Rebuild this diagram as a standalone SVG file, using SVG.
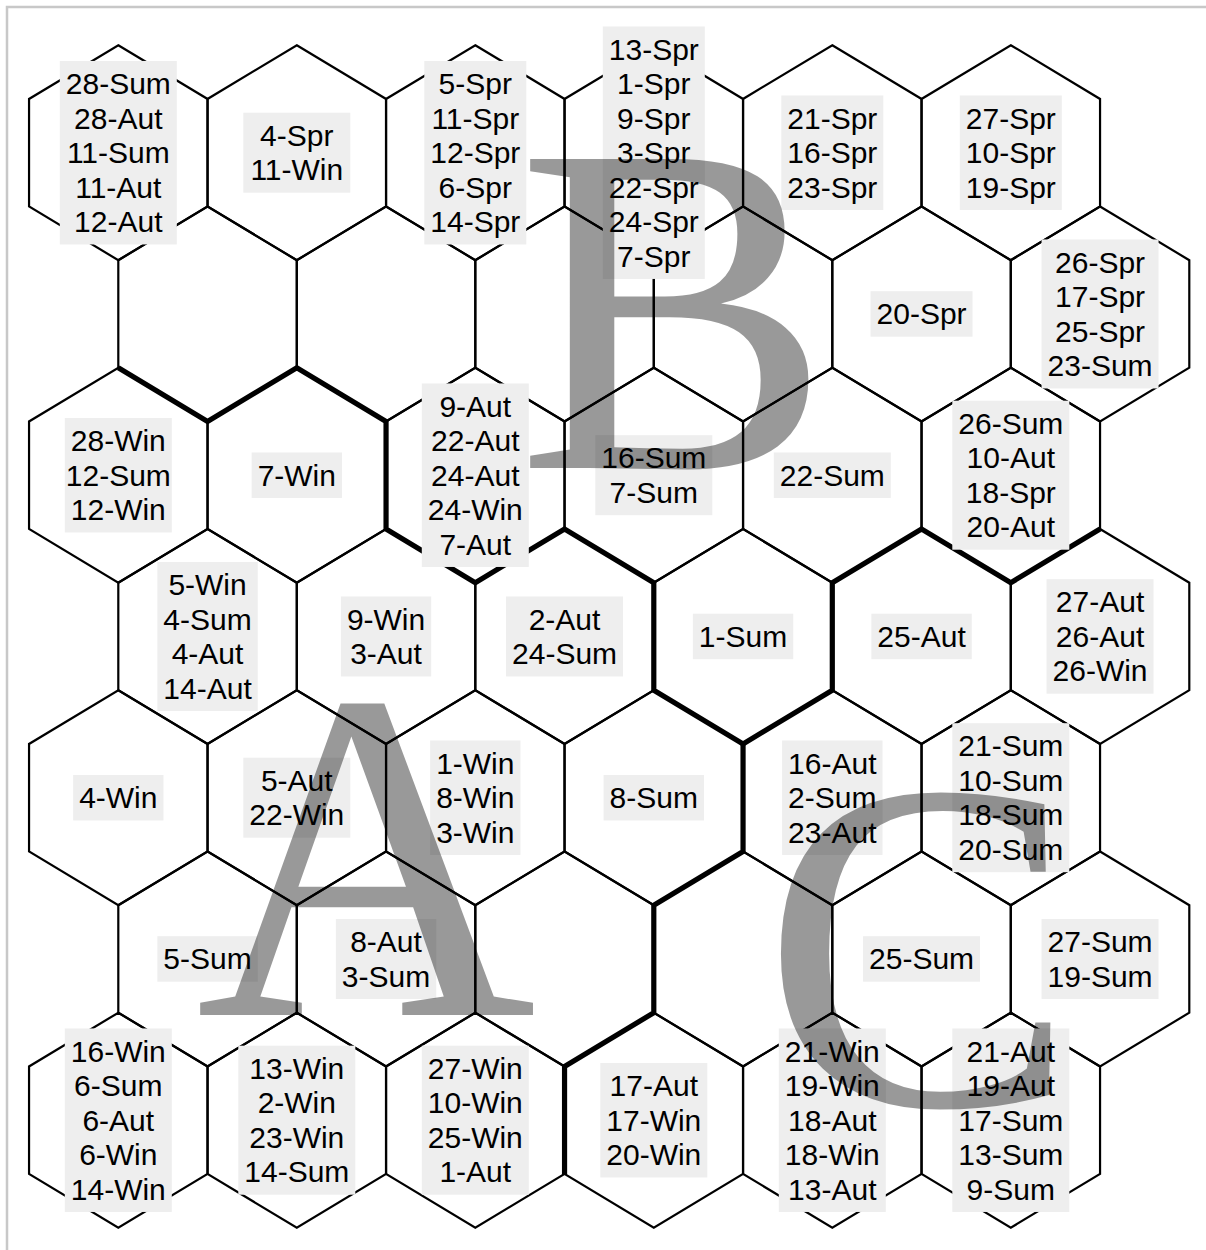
<svg xmlns="http://www.w3.org/2000/svg" xmlns:xlink="http://www.w3.org/1999/xlink" width="1206" height="1250" viewBox="0 0 1206 1250">
<style>
.cell{fill:none;stroke:#000;stroke-width:2.2;stroke-linejoin:miter}
.border{fill:none;stroke:#000;stroke-width:5.2;stroke-linejoin:miter;stroke-linecap:butt}
.box{fill:#eeeeee}
.lbl{font-family:"Liberation Sans",Arial,sans-serif;font-size:30px;fill:#000;text-anchor:middle}
.big{font-family:"Liberation Serif","Times New Roman",serif;font-size:472px;fill:#000;fill-opacity:0.4;text-anchor:middle}
.frame{fill:none;stroke:#c8c8c8;stroke-width:2.5}
</style>
<defs>
<polygon id="hex" points="0,-107.5 89.25,-53.75 89.25,53.75 0,107.5 -89.25,53.75 -89.25,-53.75"/>
</defs>
<rect x="0" y="0" width="1206" height="1250" fill="#fff"/>
<path class="frame" d="M7,1250 V7 H1206"/>
<g id="cells">
<use class="cell" href="#hex" x="118.3" y="152.7"/><use class="cell" href="#hex" x="296.8" y="152.7"/><use class="cell" href="#hex" x="475.3" y="152.7"/><use class="cell" href="#hex" x="653.8" y="152.7"/><use class="cell" href="#hex" x="832.3" y="152.7"/><use class="cell" href="#hex" x="1010.8" y="152.7"/>
<use class="cell" href="#hex" x="207.55" y="313.95"/><use class="cell" href="#hex" x="386.05" y="313.95"/><use class="cell" href="#hex" x="564.55" y="313.95"/><use class="cell" href="#hex" x="743.05" y="313.95"/><use class="cell" href="#hex" x="921.55" y="313.95"/><use class="cell" href="#hex" x="1100.05" y="313.95"/>
<use class="cell" href="#hex" x="118.3" y="475.2"/><use class="cell" href="#hex" x="296.8" y="475.2"/><use class="cell" href="#hex" x="475.3" y="475.2"/><use class="cell" href="#hex" x="653.8" y="475.2"/><use class="cell" href="#hex" x="832.3" y="475.2"/><use class="cell" href="#hex" x="1010.8" y="475.2"/>
<use class="cell" href="#hex" x="207.55" y="636.45"/><use class="cell" href="#hex" x="386.05" y="636.45"/><use class="cell" href="#hex" x="564.55" y="636.45"/><use class="cell" href="#hex" x="743.05" y="636.45"/><use class="cell" href="#hex" x="921.55" y="636.45"/><use class="cell" href="#hex" x="1100.05" y="636.45"/>
<use class="cell" href="#hex" x="118.3" y="797.7"/><use class="cell" href="#hex" x="296.8" y="797.7"/><use class="cell" href="#hex" x="475.3" y="797.7"/><use class="cell" href="#hex" x="653.8" y="797.7"/><use class="cell" href="#hex" x="832.3" y="797.7"/><use class="cell" href="#hex" x="1010.8" y="797.7"/>
<use class="cell" href="#hex" x="207.55" y="958.95"/><use class="cell" href="#hex" x="386.05" y="958.95"/><use class="cell" href="#hex" x="564.55" y="958.95"/><use class="cell" href="#hex" x="743.05" y="958.95"/><use class="cell" href="#hex" x="921.55" y="958.95"/><use class="cell" href="#hex" x="1100.05" y="958.95"/>
<use class="cell" href="#hex" x="118.3" y="1120.2"/><use class="cell" href="#hex" x="296.8" y="1120.2"/><use class="cell" href="#hex" x="475.3" y="1120.2"/><use class="cell" href="#hex" x="653.8" y="1120.2"/><use class="cell" href="#hex" x="832.3" y="1120.2"/><use class="cell" href="#hex" x="1010.8" y="1120.2"/>
</g>
<g id="connectors">
<path class="border" d="M118.3,367.7 L207.55,421.45 L296.8,367.7 L386.05,421.45 L386.05,528.95 L475.3,582.7 L564.55,528.95 L653.8,582.7 L653.8,690.2 L743.05,743.95 L832.3,690.2 L832.3,582.7 L921.55,528.95 L1010.8,582.7 L1100.05,528.95"/>
<path class="border" d="M743.05,743.95 L743.05,851.45 L653.8,905.2 L653.8,1012.7 L564.55,1066.45 L564.55,1173.95"/>
</g>
<g id="labels">
<g id="n-r1c1"><rect class="box" x="59.8" y="60.95" width="117" height="183.5"/><text class="lbl"><tspan x="118.3" y="94.1">28-Sum</tspan><tspan x="118.3" y="128.6">28-Aut</tspan><tspan x="118.3" y="163.1">11-Sum</tspan><tspan x="118.3" y="197.6">11-Aut</tspan><tspan x="118.3" y="232.1">12-Aut</tspan></text></g>
<g id="n-r1c2"><rect class="box" x="243.3" y="112.7" width="107" height="80"/><text class="lbl"><tspan x="296.8" y="145.85">4-Spr</tspan><tspan x="296.8" y="180.35">11-Win</tspan></text></g>
<g id="n-r1c3"><rect class="box" x="424.3" y="60.95" width="102" height="183.5"/><text class="lbl"><tspan x="475.3" y="94.1">5-Spr</tspan><tspan x="475.3" y="128.6">11-Spr</tspan><tspan x="475.3" y="163.1">12-Spr</tspan><tspan x="475.3" y="197.6">6-Spr</tspan><tspan x="475.3" y="232.1">14-Spr</tspan></text></g>
<g id="n-r1c4"><rect class="box" x="602.8" y="26.45" width="102" height="252.5"/><text class="lbl"><tspan x="653.8" y="59.6">13-Spr</tspan><tspan x="653.8" y="94.1">1-Spr</tspan><tspan x="653.8" y="128.6">9-Spr</tspan><tspan x="653.8" y="163.1">3-Spr</tspan><tspan x="653.8" y="197.6">22-Spr</tspan><tspan x="653.8" y="232.1">24-Spr</tspan><tspan x="653.8" y="266.6">7-Spr</tspan></text></g>
<g id="n-r1c5"><rect class="box" x="781.3" y="95.45" width="102" height="114.5"/><text class="lbl"><tspan x="832.3" y="128.6">21-Spr</tspan><tspan x="832.3" y="163.1">16-Spr</tspan><tspan x="832.3" y="197.6">23-Spr</tspan></text></g>
<g id="n-r1c6"><rect class="box" x="959.8" y="95.45" width="102" height="114.5"/><text class="lbl"><tspan x="1010.8" y="128.6">27-Spr</tspan><tspan x="1010.8" y="163.1">10-Spr</tspan><tspan x="1010.8" y="197.6">19-Spr</tspan></text></g>
<g id="n-r2c5"><rect class="box" x="870.55" y="291.2" width="102" height="45.5"/><text class="lbl"><tspan x="921.55" y="324.35">20-Spr</tspan></text></g>
<g id="n-r2c6"><rect class="box" x="1041.55" y="239.45" width="117" height="149"/><text class="lbl"><tspan x="1100.05" y="272.6">26-Spr</tspan><tspan x="1100.05" y="307.1">17-Spr</tspan><tspan x="1100.05" y="341.6">25-Spr</tspan><tspan x="1100.05" y="376.1">23-Sum</tspan></text></g>
<g id="n-r3c1"><rect class="box" x="64.8" y="417.95" width="107" height="114.5"/><text class="lbl"><tspan x="118.3" y="451.1">28-Win</tspan><tspan x="118.3" y="485.6">12-Sum</tspan><tspan x="118.3" y="520.1">12-Win</tspan></text></g>
<g id="n-r3c2"><rect class="box" x="251.65" y="452.45" width="90.3" height="45.5"/><text class="lbl"><tspan x="296.8" y="485.6">7-Win</tspan></text></g>
<g id="n-r3c3"><rect class="box" x="421.8" y="383.45" width="107" height="183.5"/><text class="lbl"><tspan x="475.3" y="416.6">9-Aut</tspan><tspan x="475.3" y="451.1">22-Aut</tspan><tspan x="475.3" y="485.6">24-Aut</tspan><tspan x="475.3" y="520.1">24-Win</tspan><tspan x="475.3" y="554.6">7-Aut</tspan></text></g>
<g id="n-r3c4"><rect class="box" x="595.3" y="435.2" width="117" height="80"/><text class="lbl"><tspan x="653.8" y="468.35">16-Sum</tspan><tspan x="653.8" y="502.85">7-Sum</tspan></text></g>
<g id="n-r3c5"><rect class="box" x="773.8" y="452.45" width="117" height="45.5"/><text class="lbl"><tspan x="832.3" y="485.6">22-Sum</tspan></text></g>
<g id="n-r3c6"><rect class="box" x="952.3" y="400.7" width="117" height="149"/><text class="lbl"><tspan x="1010.8" y="433.85">26-Sum</tspan><tspan x="1010.8" y="468.35">10-Aut</tspan><tspan x="1010.8" y="502.85">18-Spr</tspan><tspan x="1010.8" y="537.35">20-Aut</tspan></text></g>
<g id="n-r4c1"><rect class="box" x="157.35" y="561.95" width="100.4" height="149"/><text class="lbl"><tspan x="207.55" y="595.1">5-Win</tspan><tspan x="207.55" y="629.6">4-Sum</tspan><tspan x="207.55" y="664.1">4-Aut</tspan><tspan x="207.55" y="698.6">14-Aut</tspan></text></g>
<g id="n-r4c2"><rect class="box" x="340.9" y="596.45" width="90.3" height="80"/><text class="lbl"><tspan x="386.05" y="629.6">9-Win</tspan><tspan x="386.05" y="664.1">3-Aut</tspan></text></g>
<g id="n-r4c3"><rect class="box" x="506.05" y="596.45" width="117" height="80"/><text class="lbl"><tspan x="564.55" y="629.6">2-Aut</tspan><tspan x="564.55" y="664.1">24-Sum</tspan></text></g>
<g id="n-r4c4"><rect class="box" x="692.85" y="613.7" width="100.4" height="45.5"/><text class="lbl"><tspan x="743.05" y="646.85">1-Sum</tspan></text></g>
<g id="n-r4c5"><rect class="box" x="871.35" y="613.7" width="100.4" height="45.5"/><text class="lbl"><tspan x="921.55" y="646.85">25-Aut</tspan></text></g>
<g id="n-r4c6"><rect class="box" x="1046.55" y="579.2" width="107" height="114.5"/><text class="lbl"><tspan x="1100.05" y="612.35">27-Aut</tspan><tspan x="1100.05" y="646.85">26-Aut</tspan><tspan x="1100.05" y="681.35">26-Win</tspan></text></g>
<g id="n-r5c1"><rect class="box" x="73.15" y="774.95" width="90.3" height="45.5"/><text class="lbl"><tspan x="118.3" y="808.1">4-Win</tspan></text></g>
<g id="n-r5c2"><rect class="box" x="243.3" y="757.7" width="107" height="80"/><text class="lbl"><tspan x="296.8" y="790.85">5-Aut</tspan><tspan x="296.8" y="825.35">22-Win</tspan></text></g>
<g id="n-r5c3"><rect class="box" x="430.15" y="740.45" width="90.3" height="114.5"/><text class="lbl"><tspan x="475.3" y="773.6">1-Win</tspan><tspan x="475.3" y="808.1">8-Win</tspan><tspan x="475.3" y="842.6">3-Win</tspan></text></g>
<g id="n-r5c4"><rect class="box" x="603.6" y="774.95" width="100.4" height="45.5"/><text class="lbl"><tspan x="653.8" y="808.1">8-Sum</tspan></text></g>
<g id="n-r5c5"><rect class="box" x="782.1" y="740.45" width="100.4" height="114.5"/><text class="lbl"><tspan x="832.3" y="773.6">16-Aut</tspan><tspan x="832.3" y="808.1">2-Sum</tspan><tspan x="832.3" y="842.6">23-Aut</tspan></text></g>
<g id="n-r5c6"><rect class="box" x="952.3" y="723.2" width="117" height="149"/><text class="lbl"><tspan x="1010.8" y="756.35">21-Sum</tspan><tspan x="1010.8" y="790.85">10-Sum</tspan><tspan x="1010.8" y="825.35">18-Sum</tspan><tspan x="1010.8" y="859.85">20-Sum</tspan></text></g>
<g id="n-r6c1"><rect class="box" x="157.35" y="936.2" width="100.4" height="45.5"/><text class="lbl"><tspan x="207.55" y="969.35">5-Sum</tspan></text></g>
<g id="n-r6c2"><rect class="box" x="335.85" y="918.95" width="100.4" height="80"/><text class="lbl"><tspan x="386.05" y="952.1">8-Aut</tspan><tspan x="386.05" y="986.6">3-Sum</tspan></text></g>
<g id="n-r6c5"><rect class="box" x="863.05" y="936.2" width="117" height="45.5"/><text class="lbl"><tspan x="921.55" y="969.35">25-Sum</tspan></text></g>
<g id="n-r6c6"><rect class="box" x="1041.55" y="918.95" width="117" height="80"/><text class="lbl"><tspan x="1100.05" y="952.1">27-Sum</tspan><tspan x="1100.05" y="986.6">19-Sum</tspan></text></g>
<g id="n-r7c1"><rect class="box" x="64.8" y="1028.45" width="107" height="183.5"/><text class="lbl"><tspan x="118.3" y="1061.6">16-Win</tspan><tspan x="118.3" y="1096.1">6-Sum</tspan><tspan x="118.3" y="1130.6">6-Aut</tspan><tspan x="118.3" y="1165.1">6-Win</tspan><tspan x="118.3" y="1199.6">14-Win</tspan></text></g>
<g id="n-r7c2"><rect class="box" x="238.3" y="1045.7" width="117" height="149"/><text class="lbl"><tspan x="296.8" y="1078.85">13-Win</tspan><tspan x="296.8" y="1113.35">2-Win</tspan><tspan x="296.8" y="1147.85">23-Win</tspan><tspan x="296.8" y="1182.35">14-Sum</tspan></text></g>
<g id="n-r7c3"><rect class="box" x="421.8" y="1045.7" width="107" height="149"/><text class="lbl"><tspan x="475.3" y="1078.85">27-Win</tspan><tspan x="475.3" y="1113.35">10-Win</tspan><tspan x="475.3" y="1147.85">25-Win</tspan><tspan x="475.3" y="1182.35">1-Aut</tspan></text></g>
<g id="n-r7c4"><rect class="box" x="600.3" y="1062.95" width="107" height="114.5"/><text class="lbl"><tspan x="653.8" y="1096.1">17-Aut</tspan><tspan x="653.8" y="1130.6">17-Win</tspan><tspan x="653.8" y="1165.1">20-Win</tspan></text></g>
<g id="n-r7c5"><rect class="box" x="778.8" y="1028.45" width="107" height="183.5"/><text class="lbl"><tspan x="832.3" y="1061.6">21-Win</tspan><tspan x="832.3" y="1096.1">19-Win</tspan><tspan x="832.3" y="1130.6">18-Aut</tspan><tspan x="832.3" y="1165.1">18-Win</tspan><tspan x="832.3" y="1199.6">13-Aut</tspan></text></g>
<g id="n-r7c6"><rect class="box" x="952.3" y="1028.45" width="117" height="183.5"/><text class="lbl"><tspan x="1010.8" y="1061.6">21-Aut</tspan><tspan x="1010.8" y="1096.1">19-Aut</tspan><tspan x="1010.8" y="1130.6">17-Sum</tspan><tspan x="1010.8" y="1165.1">13-Sum</tspan><tspan x="1010.8" y="1199.6">9-Sum</tspan></text></g>
</g>
<g id="regions">
<text class="big" x="366" y="1015">A</text>
<text class="big" x="674" y="468">B</text>
<text class="big" x="919" y="1105">C</text>
</g>
</svg>
